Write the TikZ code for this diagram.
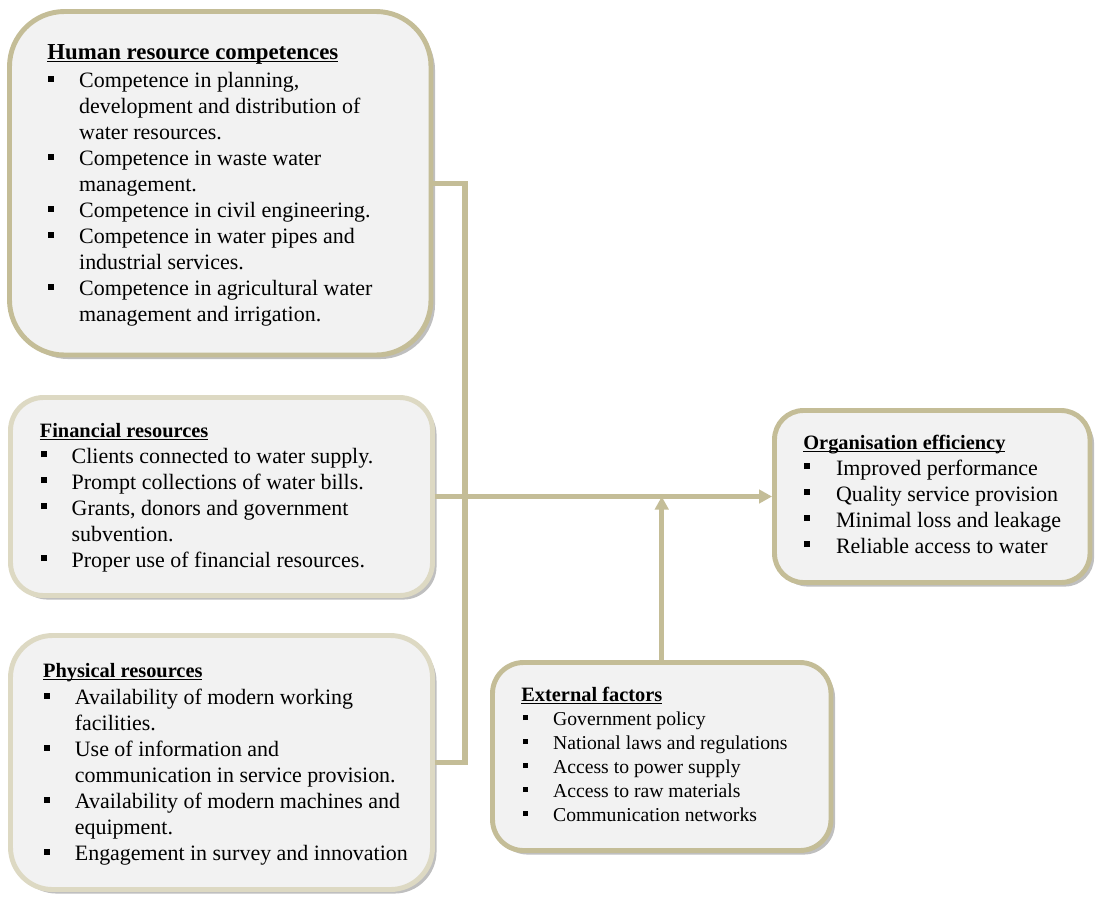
\documentclass[tikz,border=0pt]{standalone}
\usepackage{fontspec}
\setmainfont{Liberation Serif}
\usetikzlibrary{arrows.meta,shadows}
\definecolor{tanline}{HTML}{C4BD97}
\definecolor{tanlight}{HTML}{DDD9C3}
\definecolor{boxfill}{HTML}{F2F2F2}
\newcommand{\pu}{0.02cm}
\newcommand{\undl}[1]{\setbox0\hbox{#1}\rlap{\rule[-1.6pt]{\wd0}{0.6pt}}\box0}
\newcommand{\bi}{\makebox[18.1pt][l]{\hspace{0.6pt}\rule[3.4pt]{3.4pt}{3.4pt}}}
\newcommand{\bis}{\makebox[18.1pt][l]{\hspace{0.8pt}\rule[2.8pt]{3pt}{3pt}}}
\newcommand{\ci}{\hspace*{18.1pt}}
\newcommand{\ttl}[2][11.6]{{\fontsize{#1}{14.8}\selectfont\bfseries\undl{#2}}}
\tikzset{
  >={Triangle[length=7.4pt,width=7.6pt]},
  factbox/.style={draw=tanline,fill=boxfill,line width=2.8pt,
    drop shadow={shadow xshift=2.3pt,shadow yshift=-2.3pt,fill=black,opacity=0.25}},
  lightbox/.style={factbox,draw=tanlight},
  boxtext/.style={anchor=base west,inner sep=0pt,
    font=\fontsize{12.5}{14.8}\selectfont},
  smalltext/.style={boxtext,font=\fontsize{11.2}{13.66}\selectfont},
  link/.style={draw=tanline,line width=3.1pt},
  flow/.style={link,->},
}

\begin{document}
\begin{tikzpicture}[x=\pu,y=-\pu]
  \useasboundingbox (0,0) rectangle (1109,907);

  \node[factbox,rounded corners=55*\pu,minimum width=421.5*\pu,minimum height=343.5*\pu] (hr) at (220.25,183.25) {};
  \node[lightbox,rounded corners=33*\pu,minimum width=422*\pu,minimum height=198*\pu] (fin) at (221.5,496.5) {};
  \node[lightbox,rounded corners=42*\pu,minimum width=422*\pu,minimum height=254*\pu] (phys) at (221.5,762.5) {};
  \node[factbox,rounded corners=31*\pu,minimum width=338.5*\pu,minimum height=188*\pu] (ext) at (661.75,756.5) {};
  \node[factbox,rounded corners=29*\pu,minimum width=315.5*\pu,minimum height=172*\pu] (org) at (932.25,496.5) {};

  \node[boxtext] (hrtext) at (47,59) {\begin{tabular}[t]{@{}l@{}}
    \ttl[13]{Human resource competences}\\[1.6pt]
    \bi Competence in planning,\\
    \ci development and distribution of\\
    \ci water resources.\\
    \bi Competence in waste water\\
    \ci management.\\
    \bi Competence in civil engineering.\\
    \bi Competence in water pipes and\\
    \ci industrial services.\\
    \bi Competence in agricultural water\\
    \ci management and irrigation.
  \end{tabular}};

  \node[boxtext] (fintext) at (39.5,437) {\begin{tabular}[t]{@{}l@{}}
    \ttl{Financial resources}\\
    \bi Clients connected to water supply.\\
    \bi Prompt collections of water bills.\\
    \bi Grants, donors and government\\
    \ci subvention.\\
    \bi Proper use of financial resources.
  \end{tabular}};

  \node[boxtext] (physstext) at (42.7,677) {\begin{tabular}[t]{@{}l@{}}
    \ttl{Physical resources}\\[1.1pt]
    \bi Availability of modern working\\
    \ci facilities.\\
    \bi Use of information and\\
    \ci communication in service provision.\\
    \bi Availability of modern machines and\\
    \ci equipment.\\
    \bi Engagement in survey and innovation
  \end{tabular}};

  \node[smalltext] (exttext) at (521,701) {\begin{tabular}[t]{@{}l@{}}
    \ttl{External factors}\\
    \bis Government policy\\
    \bis National laws and regulations\\
    \bis Access to power supply\\
    \bis Access to raw materials\\
    \bis Communication networks
  \end{tabular}};

  \node[boxtext] (orgtext) at (803,449) {\begin{tabular}[t]{@{}l@{}}
    \ttl{Organisation efficiency}\\
    \bi\hspace{0.5pt}Improved performance\\
    \bi\hspace{0.5pt}Quality service provision\\
    \bi\hspace{0.5pt}Minimal loss and leakage\\
    \bi\hspace{0.5pt}Reliable access to water
  \end{tabular}};

  \coordinate (bus) at (465,184);
  \draw[link] (hr.east) -- (hr.east -| bus) -- (bus |- phys.east) -- (phys.east);
  \draw[flow] (fin.east) -- (org.west);
  \draw[flow] (ext.north) -- (ext.north |- fin.east);
\end{tikzpicture}
\end{document}
